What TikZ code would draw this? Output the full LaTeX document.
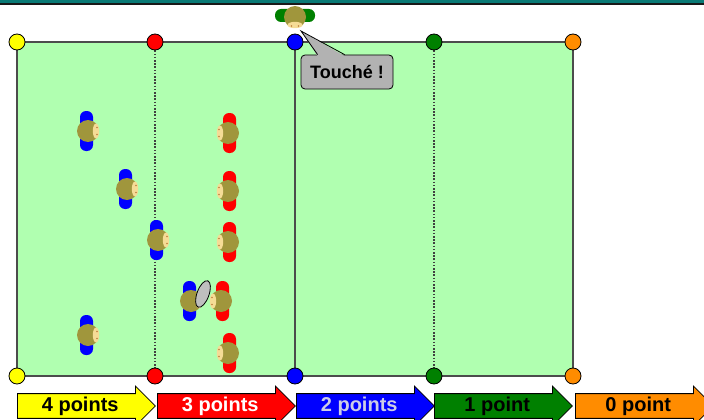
\documentclass[tikz,border=0pt]{standalone}
\usepackage{fontspec}
\setmainfont{Liberation Sans}
\usetikzlibrary{backgrounds,positioning,shapes.arrows,calc}

\definecolor{pitch}{RGB}{176,255,176}
\definecolor{barteal}{RGB}{10,122,118}
\definecolor{hair}{RGB}{160,150,60}
\definecolor{skin}{RGB}{245,220,150}
\definecolor{zyellow}{RGB}{255,255,0}
\definecolor{zred}{RGB}{255,0,0}
\definecolor{zblue}{RGB}{0,0,255}
\definecolor{zgreen}{RGB}{0,128,0}
\definecolor{zorange}{RGB}{255,140,0}
\definecolor{palelabel}{RGB}{205,205,230}

\tikzset{
  spot/.style={circle,draw=black,thick,fill=#1,minimum size=16pt,inner sep=0pt},
  zone/.style={single arrow,draw=black,thick,fill=#1,anchor=tail,
    minimum height=138pt,minimum width=40pt,single arrow head extend=6pt,
    inner sep=0pt,font=\fontsize{20}{24}\selectfont\bfseries},
  bubble/.style={rectangle,rounded corners=4pt,draw=black,thick,
    fill=black!30,minimum width=92pt,minimum height=34pt,inner sep=0pt,
    font=\fontsize{18}{22}\selectfont\bfseries},
  halfway/.style={black!75,line width=1.2pt,dash pattern=on 1.6pt off 1.6pt},
  pics/player/.style={code={
    \fill[#1,rounded corners=6pt] (-8,-20) rectangle (5,20);
    \fill[hair] (0,0) circle [radius=11];
    \fill[skin] (8,0) ellipse [x radius=3.2,y radius=7.5];
    \fill[brown] (9,-3.5) circle [radius=0.8] (9,3.5) circle [radius=0.8];
  }}
}

\begin{document}
\begin{tikzpicture}[x=1pt,y=-1pt]
\useasboundingbox (0,0) rectangle (704,420);
\fill[barteal] (0,0) rectangle (704,3);
\fill[black!90] (0,3) rectangle (704,5);

% spots at the ends of the lines
\node[spot=zyellow] (y1) at (17,42) {};
\node[spot=zred]    (r1) at (155,42) {};
\node[spot=zblue]   (b1) at (295,42) {};
\node[spot=zgreen]  (g1) at (434,42) {};
\node[spot=zorange] (o1) at (573,42) {};
\node[spot=zyellow] (y2) at (17,376) {};
\node[spot=zred]    (r2) at (155,376) {};
\node[spot=zblue]   (b2) at (295,376) {};
\node[spot=zgreen]  (g2) at (434,376) {};
\node[spot=zorange] (o2) at (573,376) {};

\begin{scope}[on background layer]
\filldraw[fill=pitch,draw=black!70,line width=1.5pt] (y1.center) rectangle (o2.center);
\draw[halfway] (r1) -- (r2);
\draw[halfway] (g1) -- (g2);
\draw[black!70,line width=1.5pt] (b1) -- (b2);
\end{scope}

% team on the left
\foreach \p in {(88,131),(127,189),(158,240),(191,301),(88,335)}
  \pic[shift={\p}] {player=zblue};
% team on the right
\foreach \p in {(228,133),(228,191),(228,242),(221,301),(228,353)}
  \pic[shift={\p},rotate=180] {player=zred};
% ball
\filldraw[fill=black!25,draw=black,thick,shift={(203,294)},rotate=-20]
  (0,0) ellipse [x radius=6,y radius=14];

% the one out of the pitch
\pic[shift={(295,17)},rotate=-90] {player=zgreen};
\coordinate (touch) at (301,31);
\node[bubble] (touche) at (347,72) {Touché !};
% tail of the bubble
\fill[black!30] ($(touche.north west)+(17,1.5)$) -- (touch) -- ($(touche.north west)+(44,1.5)$) -- cycle;
\draw[thick] ($(touche.north west)+(17,0)$) -- (touch) -- ($(touche.north west)+(44,0)$);

% points per zone
\node[zone=zyellow] (z4) at (17,406) {4 points};
\node[zone=zred,text=white] (z3) at (157,406) {3 points};
\node[zone=zblue,text=palelabel] (z2) at (296,406) {2 points};
\node[zone=zgreen] (z1) at (434,406) {1 point};
\node[zone=zorange] (z0) at (575,406) {0 point};
\end{tikzpicture}
\end{document}
